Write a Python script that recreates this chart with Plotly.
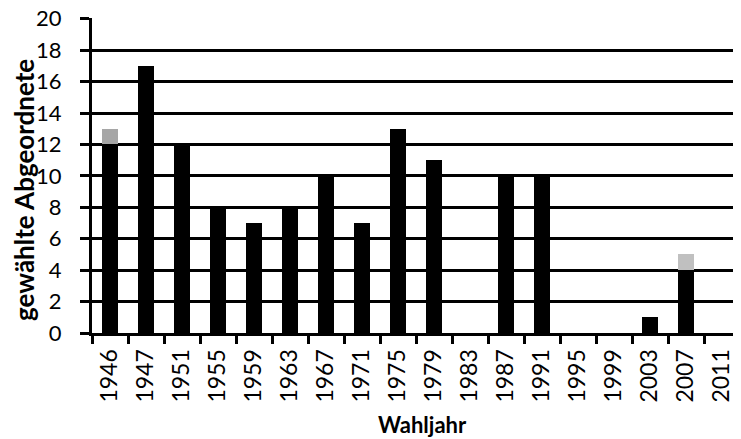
import plotly.graph_objects as go

years = ["1946", "1947", "1951", "1955", "1959", "1963", "1967", "1971", "1975",
         "1979", "1983", "1987", "1991", "1995", "1999", "2003", "2007", "2011"]
black_vals = [12, 17, 12, 8, 7, 8, 10, 7, 13, 11, 0, 10, 10, 0, 0, 1, 4, 0]
gray_dark_vals = [1, 0, 0, 0, 0, 0, 0, 0, 0, 0, 0, 0, 0, 0, 0, 0, 0, 0]
gray_light_vals = [0, 0, 0, 0, 0, 0, 0, 0, 0, 0, 0, 0, 0, 0, 0, 0, 1, 0]
y_ticks = list(range(0, 21, 2))

FONT = "Lato"

fig = go.Figure()
fig.add_trace(go.Bar(x=years, y=black_vals, marker=dict(color="#000000", line=dict(width=0))))
fig.add_trace(go.Bar(x=years, y=gray_dark_vals, marker=dict(color="#A6A6A6", line=dict(width=0))))
fig.add_trace(go.Bar(x=years, y=gray_light_vals, marker=dict(color="#C0C0C0", line=dict(width=0))))

# page body has an 8px default margin, so the figure is sized to fit the remaining window
fig.update_layout(
    width=733, height=431,
    barmode="stack", bargap=0.58,
    showlegend=False,
    plot_bgcolor="white", paper_bgcolor="white",
    margin=dict(l=84, r=1, t=10, b=106, autoexpand=False),
    font=dict(family=FONT, color="black"),
)
fig.update_xaxes(
    type="category",
    automargin=False,
    tickangle=-90,
    tickfont=dict(size=23, family=FONT),
    showline=True, linecolor="black", linewidth=3,
    ticks="outside", tickson="boundaries", ticklen=8, tickwidth=3, tickcolor="black",
    showgrid=False,
    ticklabelstandoff=4,
)
fig.update_yaxes(
    automargin=False,
    range=[0, 20.05],
    tickvals=y_ticks,
    tickfont=dict(size=22, family=FONT),
    ticklabeloverflow="allow",
    showline=True, linecolor="black", linewidth=3,
    ticks="outside", ticklen=9, tickwidth=3, tickcolor="black",
    showgrid=True, gridcolor="black", gridwidth=3,
    zeroline=False,
    ticklabelstandoff=14,
)
fig.add_annotation(
    text="<b>gewählte Abgeordnete</b>", textangle=-90,
    xref="paper", yref="paper", x=-0.106, y=0.455,
    xanchor="center", yanchor="middle", showarrow=False,
    font=dict(size=26, family=FONT, color="black"),
)
fig.add_annotation(
    text="<b>Wahljahr</b>",
    xref="paper", yref="paper", x=0.51, y=-0.292,
    xanchor="center", yanchor="middle", showarrow=False,
    font=dict(size=22, family=FONT, color="black"),
)

fig.write_html("out.html")
